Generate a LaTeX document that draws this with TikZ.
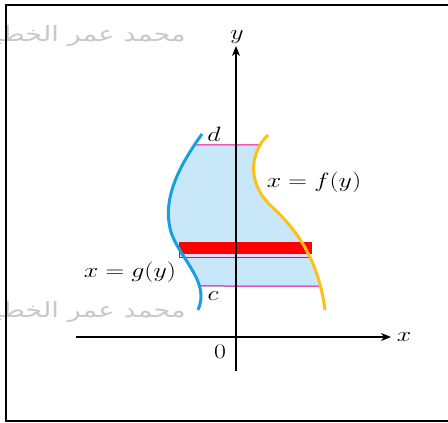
\documentclass[tikz,border=0pt]{standalone}
\usepackage{fontspec}
\usetikzlibrary{arrows.meta,intersections}
\newfontfamily\arabicfont[Script=Arabic]{DejaVu Sans}
\TeXXeTstate=1
\definecolor{gcol}{RGB}{20,160,225}
\definecolor{fcol}{RGB}{255,192,20}
\definecolor{areacol}{RGB}{200,232,250}
\definecolor{linecol}{RGB}{235,0,140}
\definecolor{stripcol}{RGB}{240,214,236}
\definecolor{wmcol}{RGB}{200,200,200}
\tikzset{
  axis/.style={line width=1.1pt,-{Stealth[length=10pt,width=8pt,inset=3pt]}},
  curveg/.style={gcol,line width=3pt},
  curvef/.style={fcol,line width=3pt},
  limline/.style={linecol,line width=1pt},
  lbl/.style={inner sep=0pt,font=\huge},
  wm/.style={inner sep=0pt,text=wmcol,font=\arabicfont\fontsize{21}{24}\selectfont,anchor=east}
}
\newcommand{\wide}[1]{\scalebox{1.25}[1]{#1}}
\newcommand{\gcurve}{(202,134) .. controls (180,165) and (160,200) .. (172,235) .. controls (183,262) and (210,283) .. (198,310)}
\newcommand{\fcurve}{(268,135) .. controls (252,150) and (245,180) .. (270,205) .. controls (292,225) and (318,255) .. (325,310)}
\newcommand{\fcurverev}{(325,310) .. controls (318,255) and (292,225) .. (270,205) .. controls (245,180) and (252,150) .. (268,135)}
\begin{document}
\begin{tikzpicture}[x=1pt,y=-1pt]
\useasboundingbox (0,0) rectangle (448,423);
\begin{scope}
\clip (0,0) rectangle (448,423);
% watermarks
\node[wm] (wm1) at (186,36) {\scalebox{1.3}[1]{\beginR محمد عمر الخطيب\endR}};
\node[wm] (wm2) at (186,312) {\scalebox{1.3}[1]{\beginR محمد عمر الخطيب\endR}};
\end{scope}
% frame
\draw[line width=2pt] (448,5) -- (6,5) -- (6,421) -- (448,421);
% curves (paths)
\path[name path=gpath] \gcurve;
\path[name path=fpath] \fcurve;
\path[name path=dline] (100,145) -- (400,145);
\path[name path=cline] (100,286) -- (400,286);
\path[name intersections={of=gpath and dline,by=dL}];
\path[name intersections={of=fpath and dline,by=dR}];
\path[name intersections={of=gpath and cline,by=cL}];
\path[name intersections={of=fpath and cline,by=cR}];
% shaded region
\begin{scope}
\clip (0,145) rectangle (448,286);
\fill[areacol] \gcurve -- \fcurverev -- cycle;
\end{scope}
\draw[limline] (dL) -- (dR);
\draw[limline] (cL) -- (cR);
% strip
\draw[linecol,line width=0.8pt,fill=stripcol] (179,244) rectangle (309,257);
\fill[red] (179,242) rectangle (312,254);
% axes
\coordinate (yb) at (236,371);
\coordinate (yt) at (236,46);
\coordinate (xl) at (76,337);
\coordinate (xr) at (391,337);
\draw[axis] (yb) -- (yt);
\draw[axis] (xl) -- (xr);
% curves
\draw[curveg] \gcurve;
\draw[curvef] \fcurve;
% labels
\node[lbl] (ylab) at (237,37) {\wide{$y$}};
\node[lbl] (xlab) at (404,337) {\wide{$x$}};
\node[lbl] (olab) at (220,352) {\wide{0}};
\node[lbl] (dlab) at (214,134) {\wide{$d$}};
\node[lbl] (clab) at (213,296) {\wide{$c$}};
\node[lbl] (flab) at (314,182) {\wide{$x=f(y)$}};
\node[lbl] (glab) at (130,272) {\wide{$x=g(y)$}};
\end{tikzpicture}
\end{document}
